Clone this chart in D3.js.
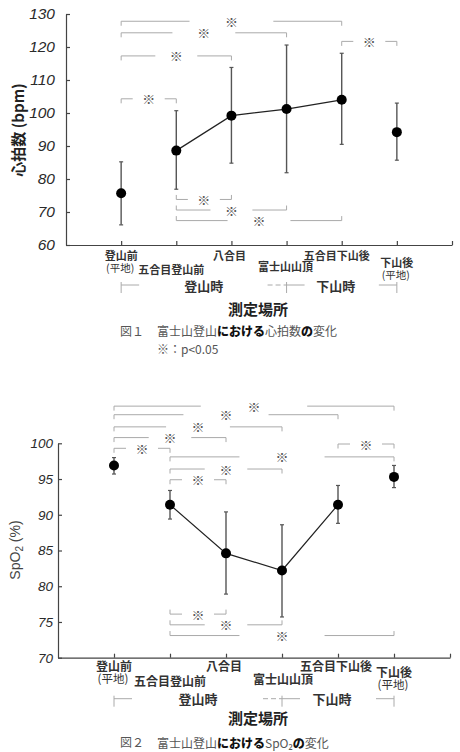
<!DOCTYPE html>
<html>
<head>
<meta charset="utf-8">
<script src="https://cdn.jsdelivr.net/npm/d3@7"></script>
<style>
  body { margin: 0; background: #fff; }
  svg { display: block; }
  .axis path, .axis line { stroke: #444; stroke-width: 1.2; }
</style>
</head>
<body>
<div id="chart"></div>
<script>
// places (x categories), both charts share them
var categories = ["登山前", "五合目登山前", "八合目", "富士山山頂", "五合目下山後", "下山後"];
var subLabels = ["(平地)", "", "", "", "", "(平地)"];
var phases = ["登山時", "下山時"];

// heart rate (bpm): mean and error bar ends
var hrMean = [75.7, 88.6, 99.2, 101.2, 104.0, 94.2];
var hrHigh = [85.2, 100.7, 113.8, 120.6, 118.1, 103.0];
var hrLow = [66.1, 76.9, 84.8, 81.9, 90.5, 85.7];
var hrTicks = [60, 70, 80, 90, 100, 110, 120, 130];
// significance pairs [from, to, level]
var hrSig = [[0, 4, 127.8], [0, 3, 124.3], [0, 2, 117.3], [0, 1, 104.3], [4, 5, 121.7],
  [1, 2, 73.8], [1, 3, 70.6], [1, 4, 67.4]];

// SpO2 (%)
var spMean = [96.9, 91.4, 84.6, 82.2, 91.4, 95.3];
var spHigh = [98.0, 93.4, 90.4, 88.6, 94.1, 96.9];
var spLow = [95.7, 89.4, 78.9, 75.7, 88.8, 93.8];
var spTicks = [70, 75, 80, 85, 90, 95, 100];
var spSig = [[0, 5, 105.2], [0, 4, 104.0], [0, 3, 102.3], [0, 2, 100.8], [0, 1, 99.3],
  [4, 5, 99.9], [1, 5, 98.1], [1, 3, 96.4], [1, 2, 94.9],
  [1, 2, 76.1], [1, 3, 74.6], [1, 5, 73.1]];

var W = 460, H = 752;
var jp = "'Noto Sans CJK JP', 'Noto Sans', sans-serif";

var svg = d3.select("#chart").append("svg")
  .attr("width", W)
  .attr("height", H);

function drawChart(cfg) {
  var x = d3.scaleLinear().domain([0, 7]).range([cfg.left, cfg.right]);
  var y = d3.scaleLinear().domain(cfg.domain).range([cfg.bottom, cfg.top]);
  var g = svg.append("g");

  // axes, ticks inward
  var yAxis = g.append("g")
    .attr("class", "axis")
    .attr("transform", "translate(" + cfg.left + ",0)")
    .call(d3.axisLeft(y).tickValues(cfg.ticks).tickSizeInner(-4).tickSizeOuter(0).tickPadding(cfg.tickPad));
  yAxis.selectAll("text")
    .attr("fill", "#2a2a2a")
    .style("font-family", "'Liberation Sans', Arial, sans-serif")
    .style("font-style", "italic")
    .style("font-size", cfg.tickFont + "px");

  g.append("g")
    .attr("class", "axis")
    .attr("transform", "translate(0," + cfg.bottom + ")")
    .call(d3.axisBottom(x).tickValues([1, 2, 3, 4, 5, 6, 7]).tickSizeInner(-4).tickSizeOuter(0).tickFormat(""));

  // significance brackets
  cfg.sig.forEach(function (s) {
    var x1 = x(s[0] + 1), x2 = x(s[1] + 1), yy = y(s[2]);
    var mid = (x1 + x2) / 2;
    var gap = Math.max(16, (x2 - x1) * 0.19);
    var above = s[2] > Math.max(cfg.mean[s[0]], cfg.mean[s[1]]);
    var t = above ? 4.5 : -4.5;
    var path = "M" + x1 + "," + (yy + t) + "V" + yy + "H" + (mid - gap) +
      "M" + (mid + gap) + "," + yy + "H" + x2 + "V" + (yy + t);
    g.append("path")
      .attr("d", path)
      .attr("fill", "none")
      .attr("stroke", "#aaa")
      .attr("stroke-width", 1);
    g.append("text")
      .attr("x", mid)
      .attr("y", yy)
      .attr("text-anchor", "middle")
      .attr("dominant-baseline", "central")
      .attr("fill", "#555")
      .style("font-family", jp)
      .style("font-size", "13px")
      .text("※");
  });

  // error bars
  var idx = d3.range(categories.length);
  idx.forEach(function (i) {
    var cx = x(i + 1);
    g.append("line")
      .attr("x1", cx).attr("x2", cx)
      .attr("y1", y(cfg.high[i])).attr("y2", y(cfg.low[i]))
      .attr("stroke", "#555").attr("stroke-width", 1.4);
    [cfg.high[i], cfg.low[i]].forEach(function (v) {
      g.append("line")
        .attr("x1", cx - 2).attr("x2", cx + 2)
        .attr("y1", y(v)).attr("y2", y(v))
        .attr("stroke", "#555").attr("stroke-width", 1.2);
    });
  });

  // line through the mountain readings only
  var line = d3.line()
    .x(function (i) { return x(i + 1); })
    .y(function (i) { return y(cfg.mean[i]); });
  g.append("path")
    .datum([1, 2, 3, 4])
    .attr("d", line)
    .attr("fill", "none")
    .attr("stroke", "#222")
    .attr("stroke-width", 1.2);

  g.selectAll("circle.pt")
    .data(idx)
    .enter()
    .append("circle")
    .attr("class", "pt")
    .attr("cx", function (i) { return x(i + 1); })
    .attr("cy", function (i) { return y(cfg.mean[i]); })
    .attr("r", 5)
    .attr("fill", "#000");

  // category labels, staggered
  var b = cfg.bottom;
  var rowY = cfg.rows;
  idx.forEach(function (i) {
    g.append("text")
      .attr("x", x(i + 1) + cfg.dx[i])
      .attr("y", b + rowY[i])
      .attr("text-anchor", "middle")
      .attr("dominant-baseline", "central")
      .attr("fill", "#333")
      .style("font-family", jp)
      .style("font-weight", "bold")
      .style("font-size", cfg.catFont + "px")
      .text(categories[i]);
    if (subLabels[i]) {
      g.append("text")
        .attr("x", x(i + 1) - 1)
        .attr("y", b + rowY[i] + cfg.subGap)
        .attr("text-anchor", "middle")
        .attr("dominant-baseline", "central")
        .attr("fill", "#333")
        .style("font-family", jp)
        .style("font-size", (cfg.catFont - 0.5) + "px")
        .text(subLabels[i]);
    }
  });

  // phase brackets
  var py = b + cfg.phaseY;
  var ends = [x(1), x(4), x(6)];
  ends.forEach(function (px) {
    g.append("line")
      .attr("x1", px).attr("x2", px)
      .attr("y1", py - 3).attr("y2", py + 8)
      .attr("stroke", "#aaa");
  });
  var segs = [[ends[0], ends[0] + 18, null], [ends[1] - 19, ends[1], "5,3"], [ends[1], ends[1] + 18, null], [ends[2] - 18, ends[2], null]];
  segs.forEach(function (s) {
    g.append("line")
      .attr("x1", s[0]).attr("x2", s[1])
      .attr("y1", py).attr("y2", py)
      .attr("stroke", "#aaa")
      .attr("stroke-dasharray", s[2]);
  });
  [[(ends[0] + ends[1]) / 2, phases[0]], [(ends[1] + ends[2]) / 2 - 6, phases[1]]].forEach(function (p) {
    g.append("text")
      .attr("x", p[0])
      .attr("y", py)
      .attr("text-anchor", "middle")
      .attr("dominant-baseline", "central")
      .attr("fill", "#333")
      .style("font-family", jp)
      .style("font-weight", "bold")
      .style("font-size", "13px")
      .text(p[1]);
  });

  // axis title
  g.append("text")
    .attr("x", 258)
    .attr("y", b + cfg.titleY)
    .attr("text-anchor", "middle")
    .attr("dominant-baseline", "central")
    .attr("fill", "#222")
    .style("font-family", jp)
    .style("font-weight", "bold")
    .style("font-size", "15px")
    .text("測定場所");

  return g;
}

// figure 1
var g1 = drawChart({
  left: 66, right: 452, top: 14, bottom: 245, domain: [60, 130],
  ticks: hrTicks, tickPad: 11, tickFont: 15.5, catFont: 11,
  mean: hrMean, high: hrHigh, low: hrLow, sig: hrSig,
  rows: [10, 24, 10, 21, 10, 17], dx: [0, -5, -2, -1, -5, 0],
  subGap: 12.5, phaseY: 40, titleY: 63
});

g1.append("text")
  .attr("transform", "translate(17,130) rotate(-90)")
  .attr("text-anchor", "middle")
  .attr("dominant-baseline", "central")
  .attr("fill", "#222")
  .style("font-family", jp)
  .style("font-weight", "bold")
  .style("font-size", "15px")
  .text("心拍数 (bpm)");

function caption(yy, num, parts) {
  svg.append("text")
    .attr("x", 120)
    .attr("y", yy)
    .attr("dominant-baseline", "central")
    .attr("fill", "#555")
    .style("font-family", jp)
    .style("font-size", "12px")
    .text("図" + num);
  var t = svg.append("text")
    .attr("x", 157)
    .attr("y", yy)
    .attr("dominant-baseline", "central")
    .attr("fill", "#555")
    .style("font-family", jp)
    .style("font-size", "12px");
  parts.forEach(function (p) {
    var s = t.append("tspan").text(p[0]);
    if (p[1]) s.style("font-weight", "900").attr("fill", "#111");
  });
  return t;
}

caption(330, "１", [["富士山登山", false], ["における", true], ["心拍数", false], ["の", true], ["変化", false]]);
svg.append("text")
  .attr("x", 157)
  .attr("y", 348)
  .attr("dominant-baseline", "central")
  .attr("fill", "#555")
  .style("font-family", jp)
  .style("font-size", "12px")
  .text("※：p<0.05");

// figure 2
var g2 = drawChart({
  left: 58, right: 450, top: 443.3, bottom: 657.7, domain: [70, 100],
  ticks: spTicks, tickPad: 5, tickFont: 13.5, catFont: 12,
  mean: spMean, high: spHigh, low: spLow, sig: spSig,
  rows: [8, 23, 8, 21, 8, 14], dx: [0, 0, -2, 1, -2, 0],
  subGap: 12.5, phaseY: 41, titleY: 60
});

var yl = g2.append("text")
  .attr("transform", "translate(15,550) rotate(-90)")
  .attr("text-anchor", "middle")
  .attr("dominant-baseline", "central")
  .attr("fill", "#444")
  .style("font-family", "'Liberation Sans', Arial, sans-serif")
  .style("font-size", "14px");
yl.append("tspan").text("SpO");
yl.append("tspan").attr("dy", 4).style("font-size", "10px").text("2");
yl.append("tspan").attr("dy", -4).text(" (%)");

caption(741.7, "２", [["富士山登山", false], ["における", true], ["SpO₂", false], ["の", true], ["変化", false]]);
</script>
</body>
</html>
